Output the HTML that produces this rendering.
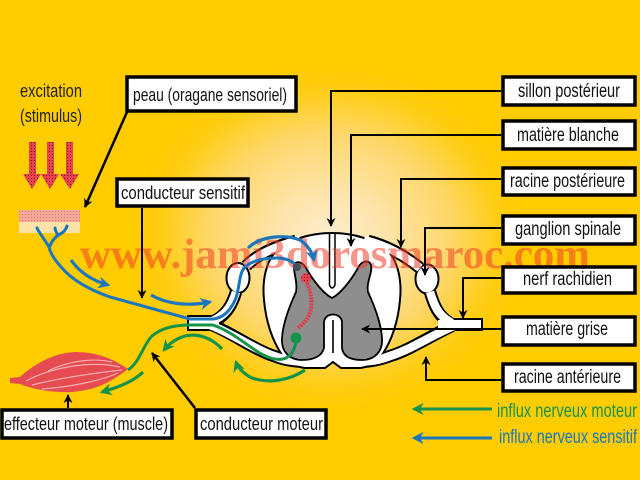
<!DOCTYPE html>
<html><head><meta charset="utf-8"><style>
html,body{margin:0;padding:0;}
body{width:640px;height:480px;overflow:hidden;background:#ffcc00;}
#bg{position:absolute;left:0;top:0;width:640px;height:480px;
background:radial-gradient(ellipse 200px 175px at 330px 238px,#fdedcf 0%,#fde4a8 28%,#fed76a 60%,#ffcd12 85%,#ffcc00 100%);}
svg{position:absolute;left:0;top:0;}
text{font-family:"Liberation Sans",sans-serif;}
</style></head><body><div id="bg"></div>
<svg width="640" height="480" viewBox="0 0 640 480" xmlns="http://www.w3.org/2000/svg">
<defs>
<pattern id="dots" width="3" height="3" patternUnits="userSpaceOnUse">
<rect width="3" height="3" fill="#e8404f"/><rect x="1" y="1" width="1" height="1" fill="#6a1422"/>
</pattern>
<pattern id="skin" width="3" height="3" patternUnits="userSpaceOnUse">
<rect width="3" height="3" fill="#f4a898"/><rect x="1" y="1" width="1" height="1" fill="#e07a78"/>
</pattern>
<marker id="ab" viewBox="0 0 10 10" refX="9" refY="5" markerWidth="9" markerHeight="9" markerUnits="userSpaceOnUse" orient="auto"><path d="M0,0 L10,5 L0,10 L3,5 z" fill="#000"/></marker>
<marker id="abl" viewBox="0 0 10 10" refX="8" refY="5" markerWidth="12" markerHeight="12" markerUnits="userSpaceOnUse" orient="auto"><path d="M0,0 L10,5 L0,10 L3,5 z" fill="#1b76bd"/></marker>
<marker id="agr" viewBox="0 0 10 10" refX="8" refY="5" markerWidth="12" markerHeight="12" markerUnits="userSpaceOnUse" orient="auto"><path d="M0,0 L10,5 L0,10 L3,5 z" fill="#15934a"/></marker>
</defs>

<!-- stimulus arrows -->
<g fill="url(#dots)">
<rect x="29" y="142" width="7" height="33"/><polygon points="23,174 41,174 32,189"/>
<rect x="47" y="142" width="7" height="33"/><polygon points="41,174 59,174 50,189"/>
<rect x="66" y="142" width="7" height="33"/><polygon points="60,174 79,174 70,189"/>
</g>
<!-- skin -->
<rect x="19" y="210" width="61" height="13" fill="url(#skin)"/>
<rect x="19" y="222" width="61" height="11" fill="#fde2a6"/>

<!-- muscle -->
<path d="M10 378 L20 377 C32 366 52 353 75 352 C100 352 116 361 128 369 C116 378 100 390 72 392 C52 393 32 389 20 384 L10 383 Z" fill="#e74b52"/>
<g fill="none" stroke="#f6aeb0" stroke-width="1.2">
<path d="M26 381 C50 368 90 360 120 367"/><path d="M32 385 C60 378 95 373 122 370"/>
<path d="M48 371 C70 360 95 358 112 362"/><path d="M42 389 C70 387 100 381 118 373"/>
</g>

<!-- roots black outlines -->
<g fill="none" stroke="#000" stroke-width="12.5" stroke-linecap="butt">
<path d="M296 241 C276 246 258 254 246 266"/>
<path d="M236 292 C232 305 226 316 212 322"/>
<path d="M212 325 C232 333 255 350 274 356 C284 360 294 362 308 362"/>
<path d="M368 241 C388 246 405 256 420 268"/>
<path d="M430 292 C434 305 438 316 450 323"/>
<path d="M452 326 C432 335 410 350 390 356 C380 360 370 362 356 362"/>
</g>
<ellipse cx="238" cy="278" rx="11.5" ry="15" fill="#fff" stroke="#000" stroke-width="2"/>
<ellipse cx="427" cy="279" rx="11.5" ry="14.5" fill="#fff" stroke="#000" stroke-width="2"/>
<rect x="188" y="316" width="28" height="14" fill="#fff" stroke="#000" stroke-width="2"/>
<rect x="440" y="319" width="42" height="11" fill="#fff" stroke="#000" stroke-width="2"/>

<!-- cord -->
<path d="M332 233 C355 233 375 240 388 251 C398 262 402 280 400 300 C398 322 392 340 382 355 C377 362 370 367 360 368 L341 368 L333 362 L325 368 L305 368 C295 367 288 362 282 355 C272 340 266 322 264 300 C262 280 266 262 276 251 C289 240 309 233 332 233 Z" fill="#fff" stroke="#000" stroke-width="2"/>

<!-- roots white -->
<g fill="none" stroke="#fff" stroke-width="8.5">
<path d="M300 240 C276 246 258 254 246 266"/>
<path d="M236 292 C232 305 226 316 210 322"/>
<path d="M210 325 C232 333 255 350 274 356 C284 360 294 362 310 362"/>
<path d="M364 240 C388 246 405 256 420 268"/>
<path d="M430 292 C434 305 438 316 452 323"/>
<path d="M454 326 C432 335 410 350 390 356 C380 360 370 362 354 362"/>
</g>
<ellipse cx="238" cy="278" rx="10" ry="13.5" fill="#fff"/>
<ellipse cx="427" cy="279" rx="10" ry="13" fill="#fff"/>
<rect x="189" y="317" width="30" height="12" fill="#fff"/>
<rect x="438" y="320" width="43" height="9" fill="#fff"/>

<!-- posterior sulcus -->
<path d="M329.5 234 L329.5 285 Q332 291 335 285 L335 234" fill="#fff" stroke="#000" stroke-width="1.5"/>

<!-- grey matter -->
<path d="M332 298 C324 294 314 282 306 268 C303 262 296 260 294 265 C293 272 298 282 296 292 C290 305 283 322 282 338 C281 352 290 360 302 360 C314 360 322 356 324 348 L324 322 C325 312 341 312 342 322 L342 348 C343 356 350 360 362 360 C374 360 383 352 382 338 C381 322 374 305 368 292 C366 282 373 272 371 265 C369 259 361 261 358 268 C350 282 340 294 332 298 Z" fill="#8e8e8e" stroke="#000" stroke-width="1.8"/>
<line x1="333" y1="320" x2="333" y2="353" stroke="#000" stroke-width="1.6"/>

<!-- watermark -->
<text x="80" y="268" textLength="510" lengthAdjust="spacingAndGlyphs" style="font-family:'Liberation Serif',serif;font-weight:bold;font-size:42px" fill="rgba(238,62,40,0.55)">www.jami3dorosmaroc.com</text>

<!-- red pathway -->
<path d="M307 283 C313 296 313 312 306 320 C303 324 300 326 298 328" fill="none" stroke="#e23a48" stroke-width="4" stroke-dasharray="2 1"/>
<circle cx="306" cy="278" r="5" fill="url(#dots)"/>

<!-- blue fiber -->
<g fill="none" stroke="#1b76bd" stroke-width="3" stroke-linecap="round">
<path d="M297 266 C292 261 285 258 277 258 C266 258 252 260 244 268 C239 275 240 285 236 298 C231 310 224 318 213 319 L190 319 C165 312 135 304 110 297 C90 290 72 280 61 267 C54 259 50 252 49 247"/>
<path d="M49 247 C45 240 40 234 37 228"/>
<path d="M50 246 C52 240 56 236 62 233 C65 231 66 229 67 226"/>
<path d="M58 235 C56 232 55 230 55 228"/>
</g>
<circle cx="297" cy="267" r="4" fill="#45505c"/>

<!-- green fiber -->
<path d="M296 338 C296 346 293 355 286 358 C277 362 265 357 255 350 C243 342 230 331 213 325 L190 325 C172 325 160 329 152 336 C143 345 140 362 128 370" fill="none" stroke="#15934a" stroke-width="3"/>
<circle cx="296" cy="338" r="5.5" fill="#15934a"/>

<!-- blue arrows -->
<g fill="none" stroke="#1b76bd" stroke-width="3.2">
<path d="M248 248 C260 236 285 234 300 240 C308 245 312 252 314 260" marker-end="url(#abl)"/>
<path d="M71 260 C78 270 90 280 108 285" marker-end="url(#abl)"/>
<path d="M151 295 C165 303 185 307 210 302" marker-end="url(#abl)"/>
</g>
<!-- green arrows -->
<g fill="none" stroke="#15934a" stroke-width="3.2">
<path d="M222 349 C212 338 198 333 185 336 C175 339 168 345 164 350" marker-end="url(#agr)"/>
<path d="M143 372 C135 380 120 387 102 392" marker-end="url(#agr)"/>
<path d="M305 370 C290 380 270 384 252 378 C244 374 238 368 236 362" marker-end="url(#agr)"/>
</g>

<!-- connectors -->
<g fill="none" stroke="#000" stroke-width="2">
<polyline points="501,91 331,91 331,226" marker-end="url(#ab)"/>
<polyline points="501,135 351,135 351,246" marker-end="url(#ab)"/>
<polyline points="501,179 401,179 401,247" marker-end="url(#ab)"/>
<polyline points="501,228 425,228 425,275" marker-end="url(#ab)"/>
<polyline points="501,278 463,278 463,318" marker-end="url(#ab)"/>
<polyline points="501,329 362,329" marker-end="url(#ab)"/>
<polyline points="501,380 426,380 426,357" marker-end="url(#ab)"/>
<polyline points="127,112 85,207" marker-end="url(#ab)" stroke-width="2.5"/>
<polyline points="142,208 142,298" marker-end="url(#ab)"/>
<polyline points="68,408 68,395" marker-end="url(#ab)"/>
<polyline points="195,408 152,353" marker-end="url(#ab)" stroke-width="2.5"/>
</g>

<!-- legend arrows -->
<line x1="492" y1="409" x2="414" y2="409" stroke="#15934a" stroke-width="3" marker-end="url(#agr)"/>
<line x1="492" y1="438" x2="414" y2="438" stroke="#1b76bd" stroke-width="3" marker-end="url(#abl)"/>

<!-- boxes -->
<g fill="#fff" stroke="#000" stroke-width="3.5">
<rect x="127" y="77" width="169" height="34"/>
<rect x="117" y="179" width="131" height="27"/>
<rect x="2" y="410" width="170" height="28"/>
<rect x="196" y="410" width="130" height="28"/>
<rect x="503" y="77" width="132" height="28"/>
<rect x="503" y="121" width="132" height="28"/>
<rect x="503" y="168" width="132" height="27"/>
<rect x="503" y="216" width="132" height="28"/>
<rect x="503" y="267" width="132" height="26"/>
<rect x="503" y="317" width="132" height="28"/>
<rect x="503" y="364" width="132" height="27"/>
</g>

<!-- texts -->
<g fill="#111" font-size="18">
<text x="20" y="97" textLength="62" lengthAdjust="spacingAndGlyphs" fill="#222">excitation</text>
<text x="20" y="122" textLength="62" lengthAdjust="spacingAndGlyphs" fill="#222">(stimulus)</text>
<text x="133" y="101" textLength="154" lengthAdjust="spacingAndGlyphs">peau (oragane sensoriel)</text>
<text x="121" y="199" textLength="124" lengthAdjust="spacingAndGlyphs">conducteur sensitif</text>
<text x="4" y="430" textLength="164" lengthAdjust="spacingAndGlyphs">effecteur moteur (muscle)</text>
<text x="200" y="430" textLength="123" lengthAdjust="spacingAndGlyphs">conducteur moteur</text>
</g>
<g fill="#111" font-size="19">
<text x="518" y="97" textLength="102" lengthAdjust="spacingAndGlyphs">sillon postérieur</text>
<text x="517" y="141" textLength="102" lengthAdjust="spacingAndGlyphs">matière blanche</text>
<text x="510" y="187" textLength="115" lengthAdjust="spacingAndGlyphs">racine postérieure</text>
<text x="515" y="235" textLength="106" lengthAdjust="spacingAndGlyphs">ganglion spinale</text>
<text x="523" y="285" textLength="89" lengthAdjust="spacingAndGlyphs">nerf rachidien</text>
<text x="526" y="335" textLength="82" lengthAdjust="spacingAndGlyphs">matière grise</text>
<text x="514" y="383" textLength="107" lengthAdjust="spacingAndGlyphs">racine antérieure</text>
<text x="497" y="417" textLength="140" lengthAdjust="spacingAndGlyphs" fill="#15934a">influx nerveux moteur</text>
<text x="499" y="443" textLength="138" lengthAdjust="spacingAndGlyphs" fill="#1b76bd">influx nerveux sensitif</text>
</g>
</svg>
</body></html>
